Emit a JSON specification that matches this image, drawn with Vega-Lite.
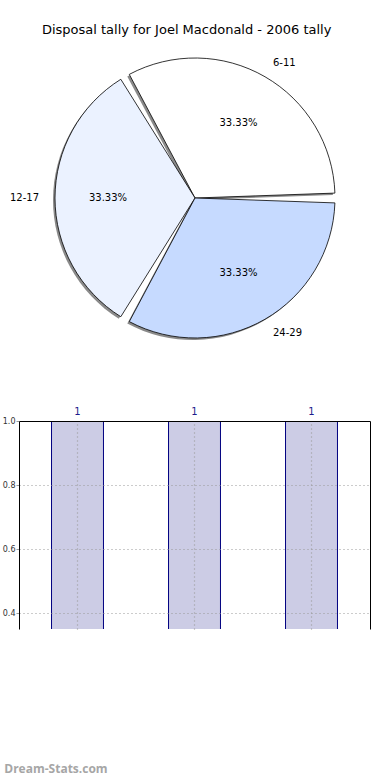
{
  "$schema": "https://vega.github.io/schema/vega-lite/v6.json",
  "padding": {"top": 24, "left": 2, "right": 0, "bottom": 0},
  "background": "white",
  "title": {"text": "Disposal tally for Joel Macdonald - 2006 tally", "font": "DejaVu Sans", "fontSize": 13, "fontWeight": "normal", "color": "black", "anchor": "middle", "frame": "bounds", "offset": 11},
  "config": {"view": {"stroke": null}, "font": "DejaVu Sans"},
  "datasets": {
    "tally": [
      {"range": "6-11", "count": 1, "pct": "33.33%"},
      {"range": "12-17", "count": 1, "pct": "33.33%"},
      {"range": "24-29", "count": 1, "pct": "33.33%"}
    ]
  },
  "spacing": 59,
  "vconcat": [
    {
      "width": 352,
      "height": 300,
      "data": {"name": "tally"},
      "encoding": {
        "theta": {"field": "count", "type": "quantitative", "stack": true, "scale": {"range": [-0.5236, 5.7596]}},
        "order": {"field": "range", "sort": "descending"},
        "color": {"field": "range", "type": "nominal", "scale": {"domain": ["6-11", "24-29", "12-17"], "range": ["#ffffff", "#c6daff", "#ebf2ff"]}, "legend": null}
      },
      "layer": [
        {"mark": {"type": "arc", "outerRadius": 140, "padAngle": 0.07, "xOffset": -2, "yOffset": 2}, "encoding": {"color": {"value": "#8a8a8a"}}},
        {"mark": {"type": "arc", "outerRadius": 140, "padAngle": 0.07, "stroke": "black", "strokeWidth": 0.8}},
        {"mark": {"type": "text", "radius": 87, "fontSize": 10}, "encoding": {"text": {"field": "pct"}, "color": {"value": "black"}}},
        {"mark": {"type": "text", "radius": 156, "fontSize": 10, "align": {"expr": "datum.range == '12-17' ? 'right' : 'left'"}}, "encoding": {"text": {"field": "range"}, "color": {"value": "black"}}}
      ]
    },
    {
      "width": 351,
      "height": 208,
      "data": {"name": "tally"},
      "title": {"text": "Dream-Stats.com", "orient": "bottom", "anchor": "start", "frame": "bounds", "offset": 135, "dx": 2, "font": "Open Sans", "fontSize": 12, "fontWeight": "bold", "color": "#a6a6a6"},
      "encoding": {
        "x": {"field": "range", "type": "nominal", "sort": ["6-11", "12-17", "24-29"], "scale": {"paddingInner": 0.556, "paddingOuter": 0.278},
          "axis": {"orient": "top", "zindex": 1, "title": null, "labels": false, "ticks": false, "domain": true, "domainColor": "black", "domainWidth": 1, "grid": true, "bandPosition": 0.5, "gridDash": [1, 3], "gridColor": "#999999", "gridWidth": 1.2}},
        "y": {"field": "count", "type": "quantitative", "scale": {"domain": [0.35, 1.0], "nice": false, "zero": false}}
      },
      "layer": [
        {"mark": {"type": "bar", "clip": true, "fill": "#ccccE5", "stroke": "#000080", "strokeWidth": 1},
          "encoding": {"y": {"field": "count", "type": "quantitative", "scale": {"domain": [0.35, 1.0], "nice": false, "zero": false},
            "axis": {"orient": "left", "zindex": 1, "title": null, "values": [0.4, 0.6, 0.8, 1.0], "format": ".1f", "labelFontSize": 8, "labelColor": "#333333", "domain": true, "domainColor": "black", "ticks": true, "tickSize": 3, "tickColor": "#999999", "labelPadding": 1, "grid": true, "gridDash": [1, 3], "gridColor": "#999999", "gridWidth": 1.2}}}},
        {"mark": {"type": "text", "dy": -9, "fontSize": 10, "color": "#1c1c8c"},
          "encoding": {"text": {"field": "count", "type": "quantitative"},
            "y": {"field": "count", "type": "quantitative", "axis": {"orient": "right", "zindex": 1, "title": null, "labels": false, "ticks": false, "grid": false, "domain": true, "domainColor": "black", "values": [0.4, 0.6, 0.8, 1.0]}}}}
      ],
      "resolve": {"axis": {"y": "independent"}}
    }
  ]
}
